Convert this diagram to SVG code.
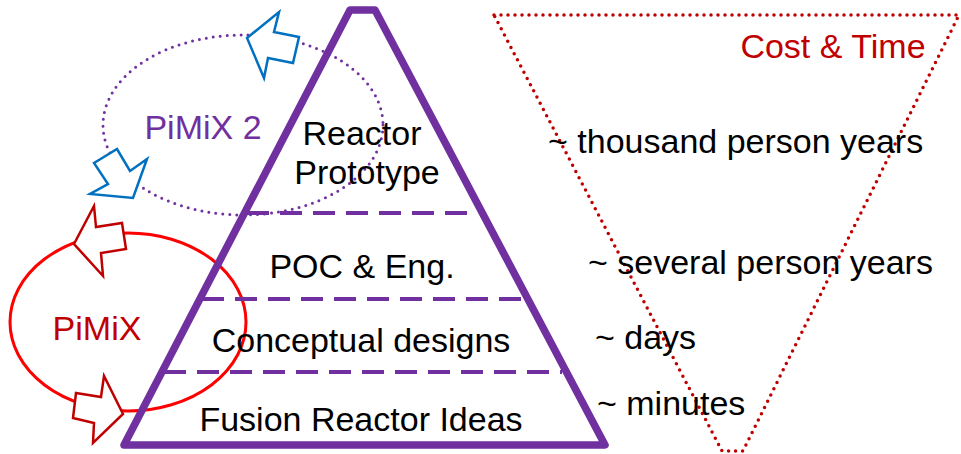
<svg xmlns="http://www.w3.org/2000/svg" width="961" height="454" viewBox="0 0 961 454">
<style>
text{font-family:"Liberation Sans",Arial,sans-serif;font-size:34px;}
.c{text-anchor:middle;fill:#000;}
.r{fill:#000;}
.dash{stroke:#7030A0;stroke-width:4;stroke-dasharray:22 11;fill:none;}
.blue{fill:#fff;stroke:#0070C0;stroke-width:2.5;stroke-linejoin:miter;}
.red{fill:#fff;stroke:#C00000;stroke-width:2.5;stroke-linejoin:miter;}
</style>
<g id="cost-triangle">
<polygon points="494,15 959,15 743,451 722,451" fill="none" stroke="#C00000" stroke-width="3.5" stroke-dasharray="0 7" stroke-linecap="round"/>
<text x="833" y="58" text-anchor="middle" fill="#C00000">Cost &amp; Time</text>
</g>
<g id="pimix2-loop">
<ellipse cx="243" cy="125" rx="140" ry="90" fill="none" stroke="#7030A0" stroke-width="3" stroke-dasharray="0 7" stroke-linecap="round"/>
<text x="203" y="139" text-anchor="middle" fill="#7030A0">PiMiX 2</text>
</g>
<g id="pimix-loop">
<ellipse cx="128" cy="322" rx="118" ry="89" fill="none" stroke="#FF0000" stroke-width="3"/>
<text x="97" y="340" text-anchor="middle" fill="#C00000">PiMiX</text>
</g>
<g id="pyramid">
<polygon points="350,10 375,10 605,445 124,445" fill="none" stroke="#7030A0" stroke-width="7.5" stroke-linejoin="round"/>
</g>
<g id="connectors">
<line class="dash" x1="247" y1="213" x2="476" y2="213"/>
<line class="dash" x1="202" y1="299" x2="522" y2="299"/>
<line class="dash" x1="164" y1="372" x2="562" y2="372"/>
<polygon class="blue" points="247,38 279,12 274,32 299,37 293,63 268,58 264,78"/>
<polygon class="blue" points="94,163 117,149 130,171 147,159 133,198 90,194 108,184"/>
<polygon class="red" points="74,244 94,206 96,227 122,223 126,249 101,253 103,276"/>
<polygon class="red" points="76,393 101,397 104,376 123,414 93,443 94,423 73,418"/>
</g>
<g id="level-prototype"><text class="c" x="362" y="145">Reactor</text><text class="c" x="367" y="184">Prototype</text></g>
<g id="level-poc"><text class="c" x="362" y="278">POC &amp; Eng.</text></g>
<g id="level-conceptual"><text class="c" x="361" y="352">Conceptual designs</text></g>
<g id="level-ideas"><text class="c" x="361" y="431">Fusion Reactor Ideas</text></g>
<g id="labels">
<text class="r" x="548" y="153">~ thousand person years</text>
<text class="r" x="588" y="274">~ several person years</text>
<text class="r" x="595" y="349">~ days</text>
<text class="r" x="597" y="415">~ minutes</text>
</g>
</svg>
